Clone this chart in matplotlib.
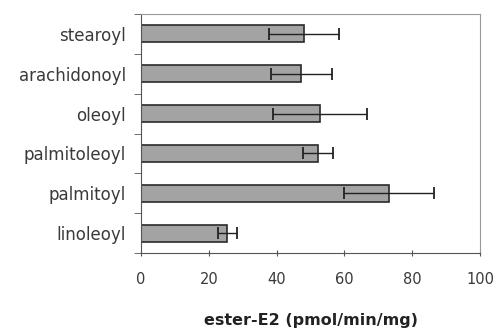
import numpy as np
import matplotlib.pyplot as plt

# esters, top to bottom as in the figure
esters = ["stearoyl", "arachidonoyl", "oleoyl", "palmitoleoyl", "palmitoyl", "linoleoyl"]
rate = [48.0, 47.3, 52.8, 52.2, 73.1, 25.5]
sd = [10.3, 9.0, 14.0, 4.3, 13.3, 2.9]

plt.rcParams['font.family'] = ['DejaVu Sans']

fig = plt.figure(figsize=(4.98, 3.31), dpi=100)
ax = fig.add_axes([141/498, 1 - 253/331, (480-141)/498, (253-14)/331])

y = np.arange(len(esters))[::-1]
ax.barh(y, rate, height=0.43, color="#a3a3a3", edgecolor="#2a2a2a", linewidth=1.2, zorder=2)
ax.errorbar(rate, y, xerr=sd, fmt="none", ecolor="#222222", elinewidth=1.0,
            capsize=4, capthick=1.3, zorder=3)

ax.set_xlim(0, 100)
ax.set_ylim(-0.5, len(esters) - 0.5)
ax.set_xticks(np.arange(0, 101, 20))
ax.set_yticks(y)
ax.set_yticklabels(esters)
ax.set_yticks(np.arange(-0.5, len(esters), 1), minor=True)
ax.tick_params(axis="y", which="major", length=0, pad=11, labelsize=12, labelcolor="#3a3a3a")
ax.tick_params(axis="y", which="minor", length=5, direction="out", color="#555555")
ax.tick_params(axis="x", length=5, direction="inout", pad=11, labelsize=10.5,
               labelcolor="#3a3a3a", color="#555555")

for s in ["top", "right"]:
    ax.spines[s].set_color("#999999")
for s in ["left", "bottom"]:
    ax.spines[s].set_color("#555555")

ax.set_xlabel("ester-E2 (pmol/min/mg)", fontsize=11.5, fontweight="bold", labelpad=19, color="#222222")

plt.savefig("out.png", dpi=100)
